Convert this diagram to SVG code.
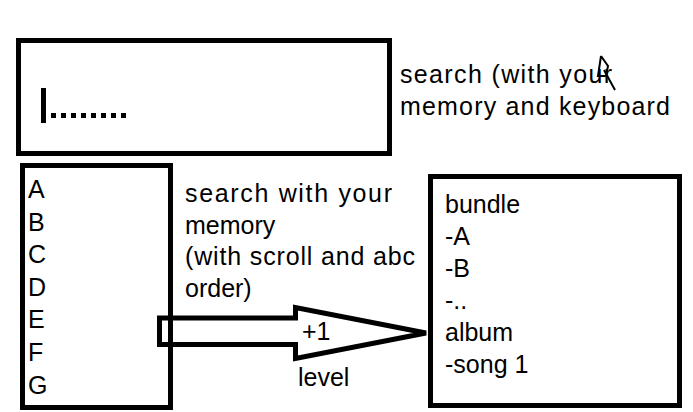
<svg xmlns="http://www.w3.org/2000/svg" width="693" height="412" viewBox="0 0 693 412">
<style>
.box{fill:none;stroke:#000;stroke-width:5}
.t{font-family:"Liberation Sans",Arial,sans-serif;font-size:25px;fill:#000}
</style>
<rect width="693" height="412" fill="#fff"/>
<g id="search-box">
<rect class="box" x="18.5" y="40.5" width="371" height="113"/>
<rect x="41" y="88" width="5" height="35" fill="#000"/>
<g fill="#000">
<rect x="51" y="113" width="5" height="5"/><rect x="61" y="113" width="5" height="5"/><rect x="71" y="113" width="5" height="5"/><rect x="81" y="113" width="5" height="5"/><rect x="91" y="113" width="5" height="5"/><rect x="101" y="113" width="5" height="5"/><rect x="111" y="113" width="5" height="5"/><rect x="121" y="113" width="5" height="5"/>
</g>
</g>
<g id="search-label">
<text class="t" x="400" y="83" textLength="212" lengthAdjust="spacing">search (with your</text>
<text class="t" x="400" y="115" textLength="270" lengthAdjust="spacing">memory and keyboard</text>
<path d="M601,56 L598,76 L607,76 M601,56 L608,66 L606,76 M604,70 L615,90" fill="none" stroke="#000" stroke-width="2"/>
</g>
<g id="abc-list">
<rect class="box" x="22.5" y="165.5" width="148" height="242"/>
<text class="t" x="28" y="198">A</text>
<text class="t" x="28" y="231">B</text>
<text class="t" x="28" y="263">C</text>
<text class="t" x="28" y="296">D</text>
<text class="t" x="28" y="328">E</text>
<text class="t" x="28" y="361">F</text>
<text class="t" x="28" y="394">G</text>
</g>
<g id="memory-label">
<text class="t" x="185" y="202" textLength="207" lengthAdjust="spacing">search with your</text>
<text class="t" x="185" y="234">memory</text>
<text class="t" x="185" y="265" textLength="230" lengthAdjust="spacing">(with scroll and abc</text>
<text class="t" x="185" y="297">order)</text>
</g>
<g id="bundle-box">
<rect class="box" x="430.5" y="176.5" width="249" height="229"/>
<text class="t" x="445" y="213">bundle</text>
<text class="t" x="445" y="245">-A</text>
<text class="t" x="445" y="277">-B</text>
<text class="t" x="445" y="309">-..</text>
<text class="t" x="445" y="341">album</text>
<text class="t" x="445" y="373">-song 1</text>
</g>
<g id="connectors">
<polygon class="box" points="159.5,318 295.5,318 295.5,307.5 426,333 295.5,358.5 295.5,344.5 159.5,344.5"/>
<text class="t" x="302" y="340">+1</text>
<text class="t" x="298" y="386">level</text>
</g>
</svg>
